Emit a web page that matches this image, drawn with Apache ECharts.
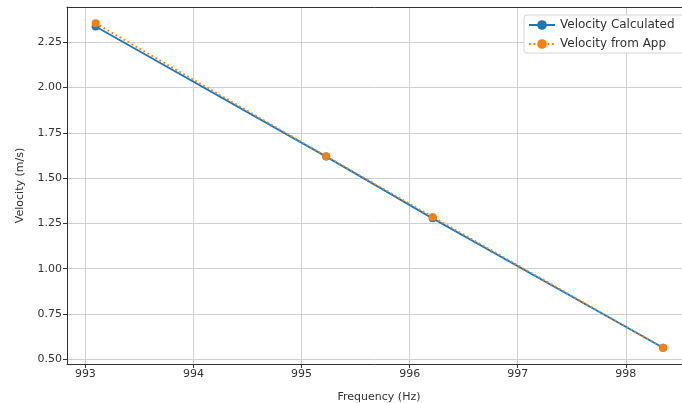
<!DOCTYPE html>
<html>
<head>
<meta charset="utf-8">
<script src="https://cdn.jsdelivr.net/npm/echarts@6/dist/echarts.min.js"></script>
<style>
	html, body { margin: 0; padding: 0; background: #fff; }
	#chart { width: 682px; height: 403px; }
</style>
</head>
<body>
<div id="chart"></div>
<script>
var frequency = [993.095, 995.228, 996.213, 998.345];
var velocityCalculated = [2.337, 1.619, 1.278, 0.564];
var velocityApp = [2.355, 1.621, 1.286, 0.564];
var xTicks = [993, 994, 995, 996, 997, 998];
var yTicks = [0.5, 0.75, 1.0, 1.25, 1.5, 1.75, 2.0, 2.25];

var font = 'DejaVu Sans';

let pairs = (xs, ys) => {
	let arr = [];
	xs.forEach(function(x, i){
		arr.push([x, ys[i]]);
	})
	return arr;
}

var chart = echarts.init(document.getElementById('chart'));
var option = {
	animation: false,
	textStyle: { fontFamily: font },
	grid: {
		left: 67, right: 0, top: 7, bottom: 39,
		outerBoundsMode: 'none',
		containLabel: false
	},
	legend: {
		orient: 'vertical',
		left: 524, top: 15,
		padding: [4, 20, 3, 4],
		itemWidth: 26, itemHeight: 12, itemGap: 7,
		backgroundColor: '#fff',
		borderColor: '#d6d6d6', borderWidth: 1, borderRadius: 3,
		textStyle: { fontSize: 12, color: '#333', fontFamily: font },
		data: ['Velocity Calculated', 'Velocity from App']
	},
	xAxis: [{
		type: 'value',
		min: 992.83, max: 998.52,
		name: 'Frequency (Hz)',
		nameLocation: 'middle', nameGap: 28,
		nameTextStyle: { fontSize: 11, color: '#333', fontFamily: font, padding: [0, 0, 0, 9] },
		axisLine: { show: true, lineStyle: { color: '#333', width: 1 } },
		axisTick: { show: true, length: 4, customValues: xTicks, lineStyle: { color: '#333' } },
		axisLabel: { customValues: xTicks, fontSize: 11, color: '#333', margin: 5, formatter: v => String(v) },
		splitLine: { show: true, lineStyle: { color: '#d0d0d0', width: 1 } }
	}, {
		type: 'value',
		position: 'top',
		min: 992.83, max: 998.52,
		axisLine: { show: true, onZero: false, lineStyle: { color: '#333', width: 1 } },
		axisTick: { show: false },
		axisLabel: { show: false },
		splitLine: { show: false }
	}],
	yAxis: {
		type: 'value',
		min: 0.474, max: 2.445,
		name: 'Velocity (m/s)',
		nameLocation: 'middle', nameGap: 41,
		nameTextStyle: { fontSize: 11, color: '#333', fontFamily: font },
		axisLine: { show: true, lineStyle: { color: '#333', width: 1 } },
		axisTick: { show: true, length: 4, customValues: yTicks, lineStyle: { color: '#333' } },
		axisLabel: { customValues: yTicks, fontSize: 11, color: '#333', margin: 5, formatter: v => v.toFixed(2) },
		splitLine: { show: true, lineStyle: { color: '#d0d0d0', width: 1 } }
	},
	series: [
		{
			name: 'Velocity Calculated',
			type: 'line',
			data: pairs(frequency, velocityCalculated),
			symbol: 'circle', symbolSize: 8,
			itemStyle: { color: '#1f77b4' },
			lineStyle: { color: '#1f77b4', width: 1.8 }
		},
		{
			name: 'Velocity from App',
			type: 'line',
			data: pairs(frequency, velocityApp),
			symbol: 'circle', symbolSize: 8,
			itemStyle: { color: '#ff7f0e' },
			lineStyle: { color: '#ff7f0e', width: 1.8, type: [1.8, 2.8] }
		}
	]
}
chart.setOption(option);
</script>
</body>
</html>
